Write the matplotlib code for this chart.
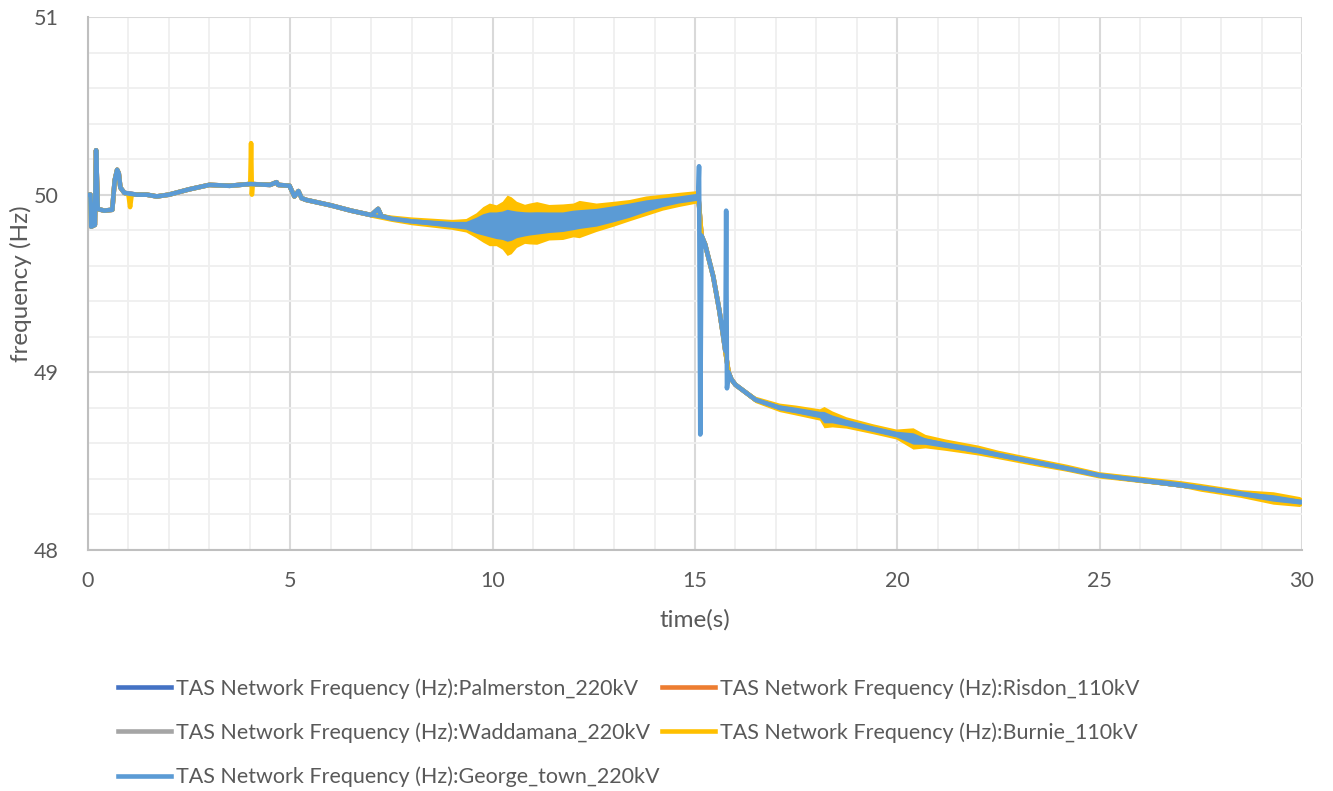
import numpy as np
import matplotlib
matplotlib.use("Agg")
import matplotlib.pyplot as plt
from matplotlib.lines import Line2D

# ---------------- data ----------------
# common system frequency trace (s, Hz)
time_s = [0.00, 0.06, 0.08, 0.17, 0.20, 0.24, 0.40, 0.60, 0.66, 0.72, 0.76, 0.80,
          0.90, 1.20, 1.45, 1.70, 2.00, 2.50, 3.00, 3.50, 4.00, 4.50, 4.66, 4.70,
          4.98, 5.10, 5.20, 5.28, 5.40, 6.00, 6.50, 7.00, 7.17, 7.25, 7.50, 8.00,
          8.50, 9.00, 9.35, 10.00, 10.50, 11.00, 11.74, 12.57, 13.39, 14.21, 15.05,
          15.08, 15.16, 15.25, 15.45, 15.60, 15.70, 15.75, 15.83, 15.90, 16.00,
          16.50, 17.10, 18.09, 18.75, 19.98, 21.20, 22.50, 23.50, 25.00, 27.50,
          29.95, 30.00]
freq_hz = [50.00, 50.00, 49.82, 49.83, 50.25, 49.92, 49.91, 49.915, 50.08, 50.14, 50.12, 50.04,
           50.01, 50.00, 50.00, 49.99, 50.00, 50.03, 50.055, 50.05, 50.06, 50.055, 50.07, 50.055,
           50.05, 49.99, 50.02, 49.98, 49.97, 49.94, 49.91, 49.885, 49.92, 49.88, 49.865, 49.85,
           49.84, 49.83, 49.825, 49.825, 49.825, 49.835, 49.845, 49.87, 49.91, 49.955, 49.985,
           50.00, 49.77, 49.72, 49.54, 49.35, 49.20, 49.12, 49.00, 48.96, 48.93,
           48.845, 48.80, 48.76, 48.715, 48.65, 48.59, 48.535, 48.49, 48.42, 48.35,
           48.27, 48.27]

# station specific transients (s, Hz)
burnie_extra_t = [1.00, 1.04, 1.08, 4.01, 4.03, 4.05, 4.07]
burnie_extra_hz = [50.00, 49.93, 50.00, 50.06, 50.29, 50.00, 50.06]
george_extra_t = [15.10, 15.13, 15.77, 15.79]
george_extra_hz = [50.16, 48.65, 49.91, 48.91]

# oscillation envelope: band centre and half-widths (Hz)
band_t = [7.0, 7.5, 8.0, 8.5, 9.0, 9.35, 9.6, 9.77, 9.93, 10.1, 10.25, 10.37, 10.47,
          10.6, 10.8, 10.92, 11.1, 11.4, 11.74, 12.0, 12.15, 12.57, 13.0, 13.39, 13.8,
          14.21, 14.6, 15.05,
          15.5,
          16.0, 16.5, 17.1, 17.5, 18.09, 18.2, 18.4, 18.75, 19.4, 19.98, 20.4, 20.7,
          21.2, 22.0, 22.5, 23.5, 24.2, 25.0, 26.0, 27.0, 27.5, 28.5, 29.3, 29.95, 30.0]
band_mid = [49.885, 49.865, 49.85, 49.84, 49.83, 49.825, 49.825, 49.83, 49.83, 49.825, 49.825, 49.825, 49.825,
            49.83, 49.833, 49.835, 49.838, 49.842, 49.845, 49.855, 49.86, 49.87, 49.89, 49.91, 49.935,
            49.955, 49.97, 49.985,
            np.nan,
            48.93, 48.845, 48.80, 48.785, 48.76, 48.745, 48.735, 48.715, 48.68, 48.65, 48.625, 48.61,
            48.59, 48.56, 48.535, 48.49, 48.46, 48.42, 48.395, 48.37, 48.35, 48.315, 48.29, 48.27, 48.27]
burnie_half = [0.015, 0.018, 0.022, 0.025, 0.028, 0.038, 0.07, 0.10, 0.12, 0.115, 0.135, 0.17, 0.16,
               0.13, 0.11, 0.115, 0.12, 0.10, 0.10, 0.095, 0.105, 0.08, 0.07, 0.06, 0.055,
               0.045, 0.04, 0.035,
               np.nan,
               0.012, 0.018, 0.024, 0.028, 0.032, 0.06, 0.045, 0.032, 0.028, 0.028, 0.06, 0.038,
               0.032, 0.028, 0.024, 0.022, 0.02, 0.018, 0.018, 0.018, 0.022, 0.022, 0.035, 0.028, 0.022]
george_half = [0.01, 0.01, 0.012, 0.014, 0.017, 0.022, 0.045, 0.06, 0.07, 0.075, 0.08, 0.09, 0.085,
               0.075, 0.068, 0.065, 0.063, 0.058, 0.055, 0.055, 0.053, 0.05, 0.045, 0.04, 0.033,
               0.025, 0.02, 0.02,
               np.nan,
               0.008, 0.01, 0.014, 0.016, 0.018, 0.032, 0.022, 0.018, 0.016, 0.016, 0.032, 0.018,
               0.016, 0.015, 0.013, 0.013, 0.012, 0.011, 0.011, 0.011, 0.012, 0.012, 0.018, 0.014, 0.012]

series_names = ["TAS Network Frequency (Hz):Palmerston_220kV",
                "TAS Network Frequency (Hz):Risdon_110kV",
                "TAS Network Frequency (Hz):Waddamana_220kV",
                "TAS Network Frequency (Hz):Burnie_110kV",
                "TAS Network Frequency (Hz):George_town_220kV"]
series_colors = ["#4472C4", "#ED7D31", "#A5A5A5", "#FFC000", "#5B9BD5"]

x_ticks = [0, 5, 10, 15, 20, 25, 30]
y_ticks = [48, 49, 50, 51]


def merged(t_base, f_base, t_add, f_add):
    t = np.array(list(t_base) + list(t_add))
    f = np.array(list(f_base) + list(f_add))
    order = np.argsort(t, kind="stable")
    return t[order], f[order]


# ---------------- drawing ----------------
plt.rcParams["font.family"] = ["Lato", "DejaVu Sans"]
fig = plt.figure(figsize=(13.33, 7.91), dpi=100)
ax = fig.add_axes([88 / 1333, 1 - 550 / 791, (1302 - 88) / 1333, (550 - 17) / 791])

ax.set_xlim(0, 30)
ax.set_ylim(48, 51)
ax.set_xticks(x_ticks)
ax.set_yticks(y_ticks)
ax.set_xticks(np.arange(0, 31, 1), minor=True)
ax.set_yticks(np.arange(48, 51.01, 0.2), minor=True)
ax.grid(which="minor", color="#efefef", lw=1.3, zorder=0)
ax.grid(which="major", color="#d9d9d9", lw=1.5, zorder=0.5)
for s in ["top", "right"]:
    ax.spines[s].set_visible(False)
for s in ["left", "bottom"]:
    ax.spines[s].set_color("#bfbfbf")
    ax.spines[s].set_linewidth(1.5)
ax.tick_params(which="both", length=0)
ax.tick_params(axis="x", pad=15, labelsize=15.5, labelcolor="#595959")
ax.tick_params(axis="y", pad=21, labelsize=15.5, labelcolor="#595959")

lw = 3.3
bt = np.array(band_t)
bm = np.array(band_mid)
bh = np.array(burnie_half)
gh = np.array(george_half)

# hidden stations (common trace)
for c in series_colors[:3]:
    ax.plot(time_s, freq_hz, color=c, lw=lw, zorder=2, solid_joinstyle="round")

# Burnie
tb, fb = merged(time_s, freq_hz, burnie_extra_t, burnie_extra_hz)
ax.fill_between(bt, bm - bh, bm + bh, color=series_colors[3], lw=0, zorder=3)
ax.plot(tb, fb, color=series_colors[3], lw=lw, zorder=3, solid_joinstyle="round")

# George town (top)
tg, fg = merged(time_s, freq_hz, george_extra_t, george_extra_hz)
ax.fill_between(bt, bm - gh, bm + gh, color=series_colors[4], lw=0, zorder=4)
ax.plot(tg, fg, color=series_colors[4], lw=lw, zorder=4, solid_joinstyle="round")

ax.set_xlabel("time(s)", fontsize=17.5, color="#595959")
ax.xaxis.set_label_coords(0.5, -(620 - 550) / 533, transform=ax.transAxes)
ax.xaxis.label.set_va("center")
ax.set_ylabel("frequency (Hz)", fontsize=17.5, color="#595959")
ax.yaxis.set_label_coords(-(88 - 21) / 1214, 0.5, transform=ax.transAxes)
ax.yaxis.label.set_va("center")

handles = [Line2D([], [], color=c, lw=lw) for c in series_colors]
order = [0, 2, 4, 1, 3]
leg = fig.legend([handles[i] for i in order], [series_names[i] for i in order],
                 ncol=2, loc="upper left", bbox_to_anchor=(118 / 1333, 1 - 678 / 791),
                 frameon=False, fontsize=15.5, labelcolor="#595959",
                 handlelength=2.45, handletextpad=0.25, columnspacing=0.1,
                 labelspacing=1.1, borderaxespad=0, borderpad=0)

fig.savefig("out.png", dpi=100)
